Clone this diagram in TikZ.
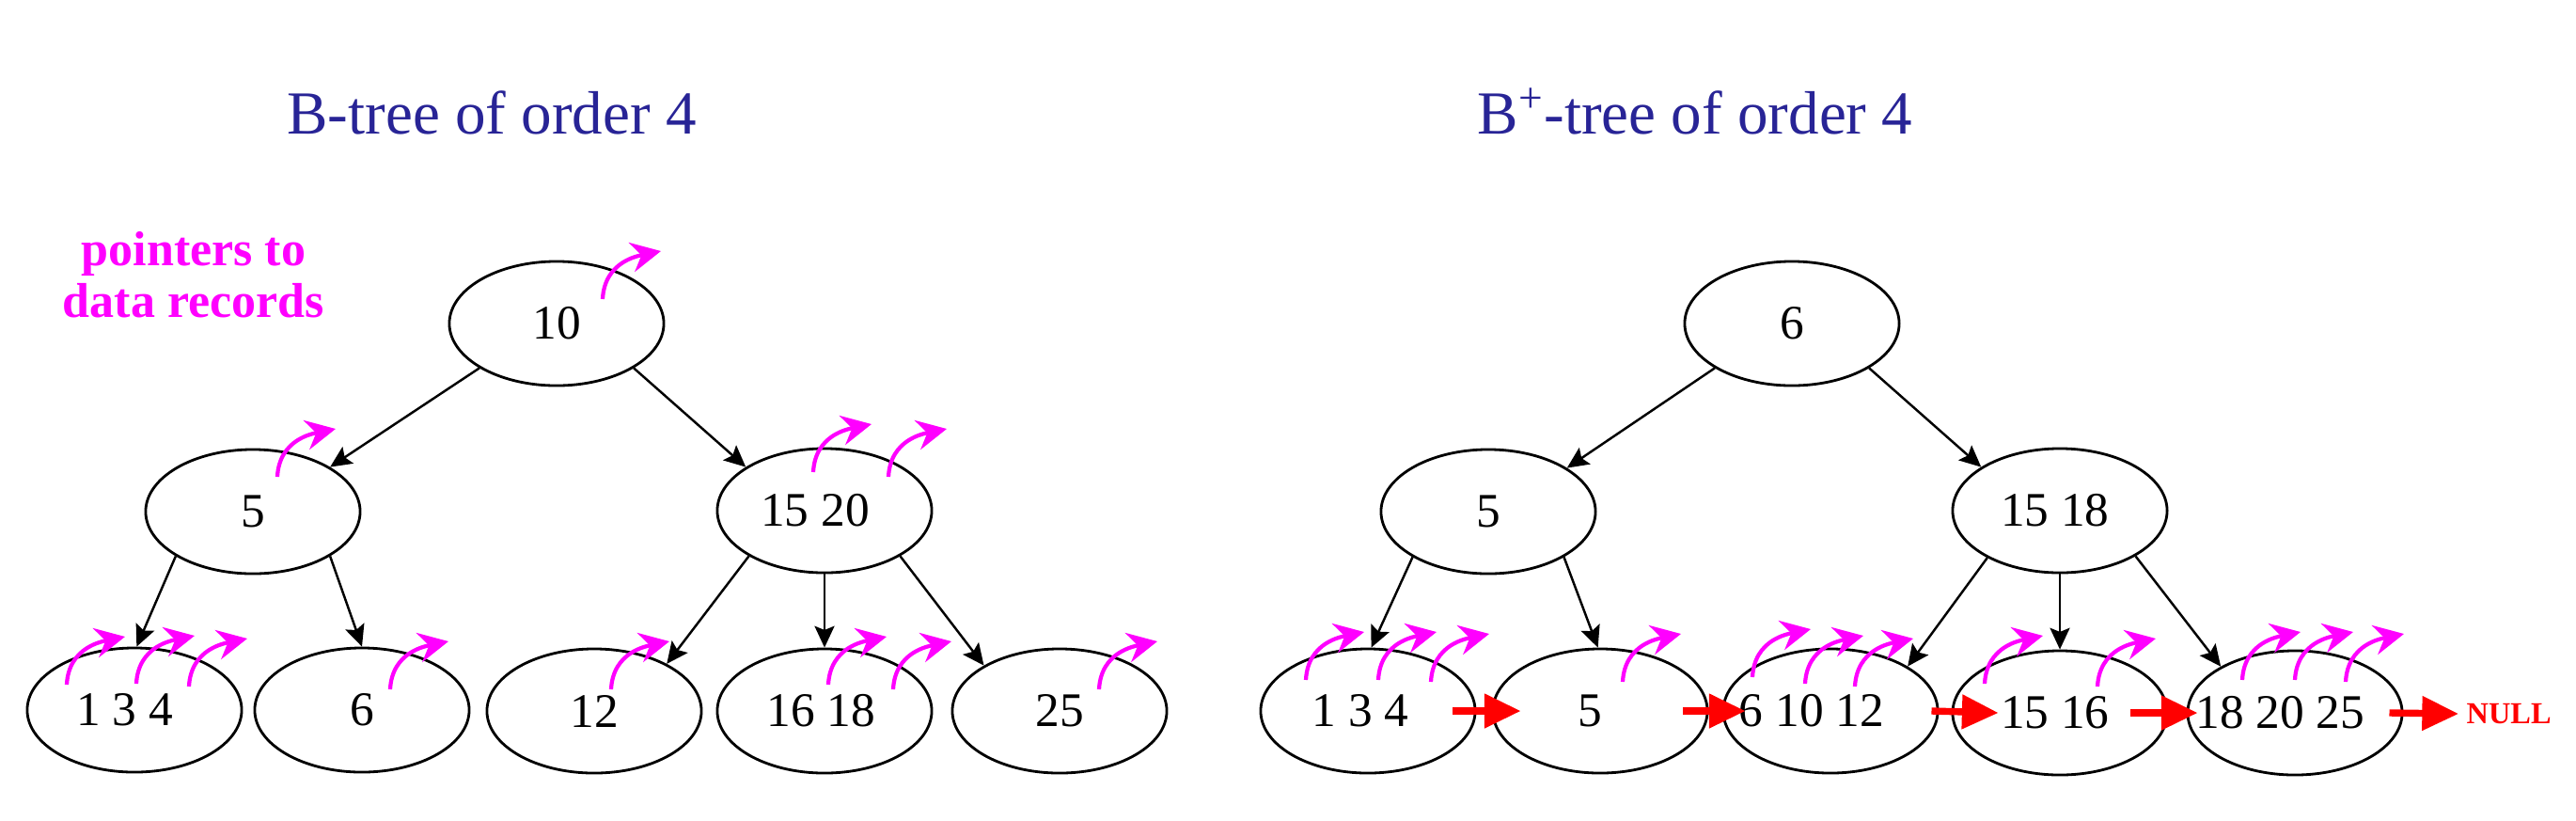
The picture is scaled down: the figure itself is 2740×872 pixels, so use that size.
\documentclass[tikz,border=0pt]{standalone}
\usepackage{fontspec}
\setmainfont{Liberation Serif}
\usetikzlibrary{arrows.meta,shapes.geometric}
\definecolor{titleblue}{RGB}{40,36,150}
\definecolor{ptrmag}{RGB}{255,0,255}
\definecolor{linkred}{RGB}{255,0,0}
\newcommand{\kw}[2][0pt]{\makebox[0pt]{#2\kern#1}}
\newcommand{\recptr}[2]{\draw[recptr] ([shift={#2}]#1.center) .. controls +(2,-40) and +(-24,5) .. +(62,-51);}
\tikzset{
  bnode/.style={ellipse, draw=black, line width=0.8pt, minimum width=2.28cm, minimum height=1.32cm, inner sep=0pt, fill=none},
  child/.style={-{Stealth[length=6.5pt,width=6pt,inset=1.2pt]}, line width=0.7pt},
  link/.style={-{Triangle[length=11pt,width=10pt]}, line width=2.1pt, draw=linkred},
  recptr/.style={-{Stealth[length=9pt,width=9pt,inset=3pt]}, line width=1.2pt, draw=ptrmag},
  title/.style={text=titleblue, font=\fontsize{18.5pt}{22pt}\selectfont, inner sep=0pt}
}
\begin{document}
\begin{tikzpicture}[x=0.01cm, y=-0.01cm, font=\fontsize{14.6pt}{17pt}\selectfont]
\useasboundingbox (0,0) rectangle (2740,872);
% titles
\node[title, anchor=base] (t1) at (523,142) {B-tree of order 4};
\node[title, anchor=base] (t2) at (1803,142) {B\textsuperscript{+}-tree of order 4};
\node[font=\bfseries\fontsize{14.8pt}{15.6pt}\selectfont, text=ptrmag, align=center, inner sep=0pt] (plabel) at (206,292) {pointers to\\data records};
% left B-tree
\node[bnode] (L10) at (592,344) {\kw{10}};
\node[bnode] (L5) at (269,544) {\kw{5}};
\node[bnode] (L1520) at (877,543) {\kw[5.7pt]{15 20}};
\node[bnode] (L134) at (143,755) {\kw[6pt]{1 3 4}};
\node[bnode] (L6) at (385,755) {\kw{6}};
\node[bnode] (L12) at (632,756) {\kw{12}};
\node[bnode] (L1618) at (877,756) {\kw[2pt]{16 18}};
\node[bnode] (L25) at (1127,756) {\kw{25}};
\draw[child] (L10.210) -- (L5.30);
\draw[child] (L10.330) -- (L1520.151);
\draw[child] (L5.210) -- (L134.88);
\draw[child] (L5.330) -- (L6.90);
\draw[child] (L1520.211) -- (L12.33);
\draw[child] (L1520.270) -- (L1618.90);
\draw[child] (L1520.329) -- (L25.149);
% right B+-tree
\node[bnode] (R6) at (1906,344) {\kw{6}};
\node[bnode] (R5) at (1583,544) {\kw{5}};
\node[bnode] (R1518) at (2191,543) {\kw[3pt]{15 18}};
\node[bnode] (R134) at (1455,756) {\kw[4.5pt]{1 3 4}};
\node[bnode] (R5b) at (1702,756) {\kw[6pt]{5}};
\node[bnode] (R61012) at (1947,756) {\kw[11.4pt]{6 10 12}};
\node[bnode] (R1516) at (2191,758) {\kw[3pt]{15 16}};
\node[bnode] (R182025) at (2441,758) {\kw[9pt]{18 20 25}};
\node[text=linkred, font=\bfseries\fontsize{9.2pt}{10pt}\selectfont, anchor=west, inner sep=0pt] (null) at (2623,759) {NULL};
\draw[child] (R6.210) -- (R5.29);
\draw[child] (R6.330) -- (R1518.151);
\draw[child] (R5.211) -- (R134.87);
\draw[child] (R5.329) -- (R5b.92);
\draw[child] (R1518.213) -- (R61012.30);
\draw[child] (R1518.270) -- (R1516.90);
\draw[child] (R1518.329) -- (R182025.148);
% leaf links
\draw[link] ([xshift=-0.25cm]R134.east) -- ([xshift=0.31cm]R5b.west);
\draw[link] ([xshift=-0.27cm]R5b.east) -- ([xshift=0.25cm]R61012.west);
\draw[link] ([xshift=-0.08cm]R61012.east) -- ([xshift=0.5cm]R1516.west);
\draw[link] ([xshift=-0.4cm]R1516.east) -- ([xshift=0.12cm]R182025.west);
\draw[link] ([xshift=-0.15cm]R182025.east) -- ([xshift=-0.08cm]null.west);
% pointers to data records
\recptr{L10}{(49,-26)}
\recptr{L5}{(26,-37)}
\recptr{L1520}{(-12,-41)}
\recptr{L1520}{(68,-36)}
\recptr{L134}{(-72,-27)}
\recptr{L134}{(2,-28)}
\recptr{L134}{(58,-25)}
\recptr{L6}{(30,-22)}
\recptr{L12}{(18,-23)}
\recptr{L1618}{(4,-28)}
\recptr{L1618}{(73,-23)}
\recptr{L25}{(42,-23)}
\recptr{R134}{(-66,-33)}
\recptr{R134}{(11,-33)}
\recptr{R134}{(67,-31)}
\recptr{R5b}{(24,-31)}
\recptr{R61012}{(-83,-36)}
\recptr{R61012}{(-27,-29)}
\recptr{R61012}{(26,-26)}
\recptr{R1516}{(-80,-31)}
\recptr{R1516}{(40,-28)}
\recptr{R182025}{(-56,-35)}
\recptr{R182025}{(0,-35)}
\recptr{R182025}{(54,-33)}
\end{tikzpicture}
\end{document}
